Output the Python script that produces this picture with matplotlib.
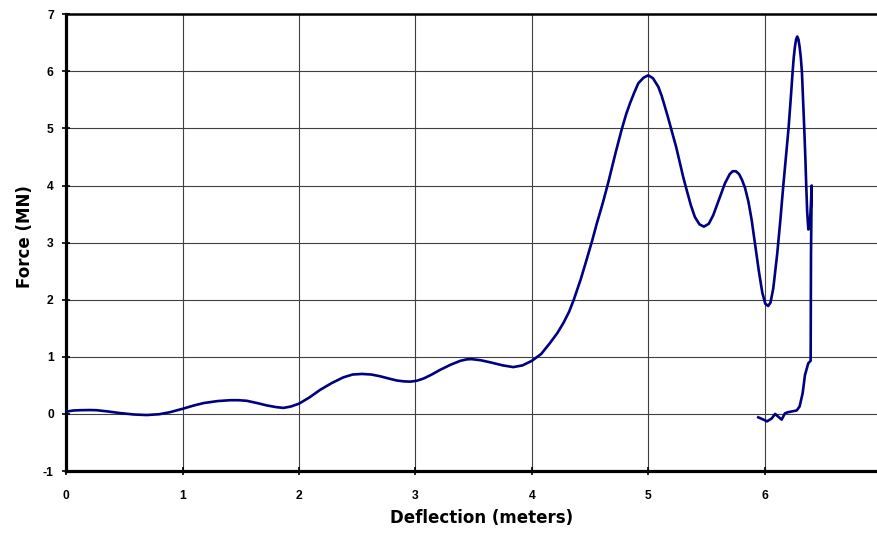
import matplotlib.pyplot as plt

# force-deflection record (loading, then unloading tail)
deflection = [0.0, 0.06, 0.12, 0.2, 0.26, 0.35, 0.46, 0.58, 0.69, 0.8, 0.89, 1.0,
              1.1, 1.18, 1.3, 1.41, 1.48, 1.55, 1.64, 1.72, 1.8, 1.865, 1.93,
              2.0, 2.09, 2.18, 2.28, 2.38, 2.46, 2.54, 2.62, 2.695, 2.77, 2.84,
              2.9, 2.955, 3.01, 3.07, 3.14, 3.21, 3.3, 3.385, 3.44, 3.48, 3.56,
              3.65, 3.75, 3.84, 3.92, 4.0, 4.08, 4.155, 4.22, 4.27, 4.32, 4.36,
              4.42, 4.47, 4.52, 4.557, 4.61, 4.657, 4.72, 4.77, 4.81, 4.843,
              4.88, 4.914, 4.96, 5.0, 5.04, 5.086, 5.115, 5.143, 5.17, 5.20,
              5.24, 5.272, 5.30, 5.33, 5.365, 5.40, 5.44, 5.478, 5.52, 5.558,
              5.61, 5.659, 5.70, 5.725, 5.753, 5.78, 5.805, 5.831, 5.86, 5.888,
              5.92, 5.95, 5.98, 6.005, 6.03, 6.05, 6.074, 6.09, 6.108, 6.135,
              6.16, 6.185, 6.205, 6.225, 6.24, 6.25, 6.26, 6.27, 6.28, 6.29,
              6.30, 6.31, 6.32, 6.33, 6.34, 6.35, 6.357, 6.365, 6.375, 6.383,
              6.39, 6.398, 6.404, 6.398, 6.395, 6.375, 6.346, 6.326, 6.30,
              6.275, 6.20, 6.174, 6.146, 6.117, 6.09, 6.06, 6.02, 5.99, 5.945]
force = [0.04, 0.06, 0.065, 0.068, 0.065, 0.045, 0.015, -0.01, -0.02, -0.005, 0.03, 0.09,
         0.15, 0.19, 0.225, 0.24, 0.24, 0.23, 0.19, 0.15, 0.12, 0.105, 0.13,
         0.18, 0.29, 0.42, 0.54, 0.64, 0.69, 0.70, 0.69, 0.66, 0.62, 0.585,
         0.57, 0.565, 0.58, 0.62, 0.69, 0.77, 0.86, 0.93, 0.955, 0.96, 0.94,
         0.9, 0.85, 0.82, 0.85, 0.93, 1.05, 1.24, 1.42, 1.59, 1.79, 2.0,
         2.36, 2.7, 3.05, 3.33, 3.7, 4.06, 4.58, 4.97, 5.25, 5.44,
         5.63, 5.79, 5.89, 5.93, 5.88, 5.73, 5.57, 5.38, 5.19, 4.97,
         4.67, 4.39, 4.15, 3.92, 3.66, 3.45, 3.32, 3.28, 3.33, 3.48,
         3.77, 4.04, 4.2, 4.25, 4.25, 4.2, 4.1, 3.96, 3.72, 3.4,
         2.93, 2.5, 2.12, 1.93, 1.89, 1.95, 2.2, 2.48, 2.81, 3.4,
         4.0, 4.55, 5.0, 5.55, 5.99, 6.25, 6.43, 6.56, 6.61, 6.56,
         6.43, 6.25, 5.99, 5.5, 5.0, 4.45, 4.0, 3.55, 3.23, 3.25,
         3.39, 3.7, 4.0, 2.81, 0.93, 0.89, 0.68, 0.36, 0.13,
         0.06, 0.03, 0.01, -0.10, -0.05, 0.0, -0.08, -0.13, -0.10, -0.06]

x_ticks = [0, 1, 2, 3, 4, 5, 6, 7]
y_ticks = [-1, 0, 1, 2, 3, 4, 5, 6, 7]

plt.rcParams['font.family'] = ['Liberation Sans', 'DejaVu Sans']
plt.rcParams['axes.unicode_minus'] = False

fig = plt.figure(figsize=(8.78, 5.33), dpi=100)
ax = fig.add_axes([0.0755, 0.1163, 0.928, 0.857])

ax.plot(deflection, force, color='#000080', lw=1.9, solid_joinstyle='round', zorder=3)

ax.set_xlim(0, 7)
ax.set_ylim(-1, 7)
ax.set_xticks(x_ticks)
ax.set_yticks(y_ticks)
ax.grid(True, color='#404040', lw=0.8)
ax.set_axisbelow(True)

for side in ['left', 'bottom']:
    ax.spines[side].set_linewidth(2.3)
ax.spines['top'].set_linewidth(1.8)
ax.spines['right'].set_visible(False)

ax.tick_params(axis='both', direction='inout', length=6, width=1.2,
               labelsize=8.7)
ax.tick_params(axis='x', pad=11)
ax.tick_params(axis='y', pad=6)
for lbl in ax.get_xticklabels() + ax.get_yticklabels():
    lbl.set_fontweight('bold')

ax.set_xlabel('Deflection (meters)', fontsize=12, fontweight='bold',
              family='DejaVu Sans')
ax.xaxis.set_label_coords(0.51, -0.083)
ax.set_ylabel('Force (MN)', fontsize=12, fontweight='bold', family='DejaVu Sans')
ax.yaxis.set_label_coords(-0.0396, 0.513)

fig.savefig('out.png', dpi=100)
